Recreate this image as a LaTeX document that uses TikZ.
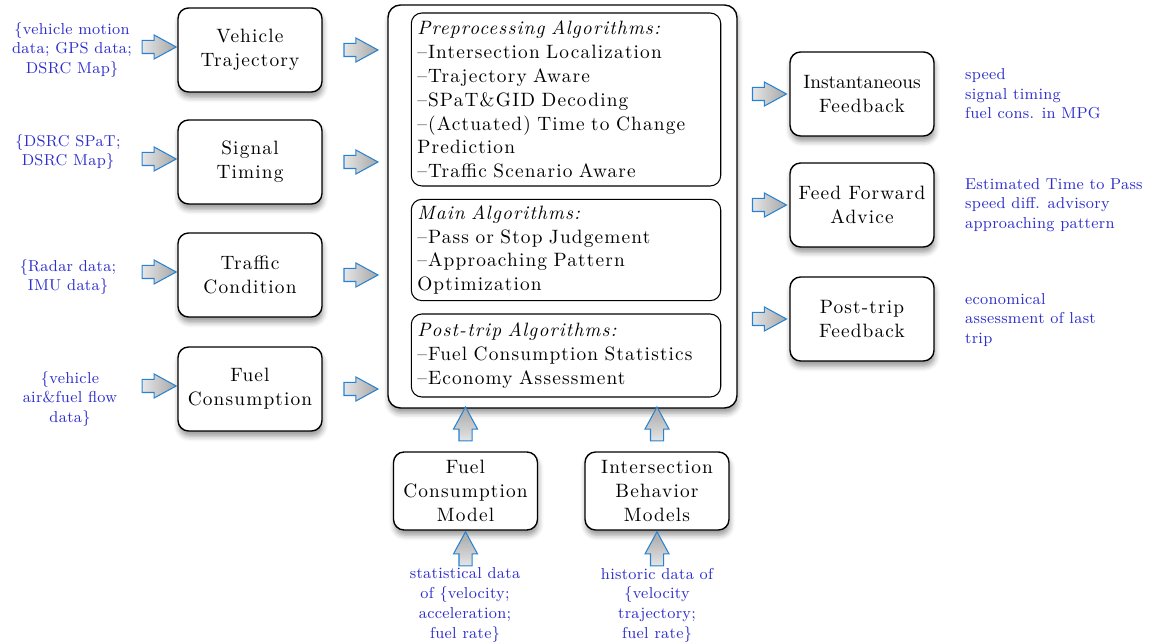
\documentclass[tikz,border=0pt]{standalone}
\usepackage{fontspec}
\setmainfont{Latin Modern Roman}
\newfontfamily\spacedfont{Latin Modern Roman}[LetterSpace=6]
\newfontfamily\datafont{Latin Modern Roman}[LetterSpace=2]
\usetikzlibrary{shapes.arrows,shadows.blur,calc}
\definecolor{datablue}{RGB}{45,45,205}
\definecolor{arrowblue}{RGB}{40,130,210}
\begin{document}
\begin{tikzpicture}[
      x=0.02cm, y=-0.02cm,
      module box/.style ={draw, line width=0.8pt, rounded corners=6pt, fill=white,
        align=center, inner sep=2pt, minimum width=2.88cm, minimum height=#1,
        font=\spacedfont\fontsize{11}{13.6}\selectfont,
        blur shadow={shadow xshift=0.5pt, shadow yshift=-3pt, shadow blur radius=3pt}},
      module box/.default=1.68cm,
      algo box/.style ={draw, line width=0.6pt, rounded corners=6pt, fill=white,
        align=left, text width=5.95cm, minimum height=#1, inner sep=0.12cm,
        font=\spacedfont\fontsize{11}{13.6}\selectfont},
      data text/.style ={text=datablue, align=#1, inner sep=1pt,
        font=\datafont\fontsize{9}{11.2}\selectfont},
      data text/.default=center,
      fat arrow/.style ={single arrow, draw=arrowblue, line width=0.6pt,
        minimum height=0.68cm, text height=0pt, text depth=0pt, inner xsep=0pt,
        inner ysep=0.12cm, single arrow head extend=0.11cm,
        single arrow tip angle=57, left color=gray!20, right color=gray!70},
      up arrow/.style ={fat arrow, shape border rotate=90, inner xsep=0.12cm,
        inner ysep=0pt, bottom color=gray!20, top color=gray!70}]
    \useasboundingbox (0,0) rectangle (1153,644);
    \node[module box] (traj) at (250,50) {Vehicle\\Trajectory};
    \node[module box] (signal) at (250,162) {Signal\\Timing};
    \node[module box] (traffic) at (250,275) {Traffic\\Condition};
    \node[module box] (fuel) at (250,389) {Fuel\\Consumption};
    \node[data text] (trajdata) at (72,50) {\{vehicle motion\\data; GPS data;\\DSRC Map\}};
    \node[data text] (signaldata) at (68,152) {\{DSRC SPaT;\\DSRC Map\}};
    \node[data text] (trafficdata) at (68,277) {\{Radar data;\\IMU data\}};
    \node[data text] (fueldata) at (70,399) {\{vehicle\\air\&fuel flow\\data\}};
    \node[draw, line width=0.8pt, rounded corners=7pt, fill=white, minimum width=6.98cm,
      minimum height=8.06cm,
      blur shadow={shadow xshift=0.5pt, shadow yshift=-3pt, shadow blur radius=3pt}]
      (main) at (562.5,206.5) {};
    \node[algo box=3.46cm] (prep) at (566,99.5) {\textit{Preprocessing Algorithms:}\\
      \textendash Intersection Localization\\\textendash Trajectory Aware\\
      \textendash SPaT\&GID Decoding\\\textendash(Actuated) Time to Change\\
      Prediction\\\textendash Traffic Scenario Aware};
    \node[algo box=2cm] (mainalgo) at (566,250) {\textit{Main Algorithms:}\\
      \textendash Pass or Stop Judgement\\\textendash Approaching Pattern\\Optimization};
    \node[algo box=1.66cm] (post) at (566,355.5) {\textit{Post-trip Algorithms:}\\
      \textendash Fuel Consumption Statistics\\\textendash Economy Assessment};
    \node[module box] (instant) at (862,94) {{\rmfamily Instantaneous}\\Feedback};
    \node[module box] (advice) at (862,205) {Feed Forward\\Advice};
    \node[module box] (posttrip) at (862,319) {Post-trip\\Feedback};
    \node[data text=left, anchor=west] (instantdata) at (963,94) {speed\\signal timing\\fuel cons. in MPG};
    \node[data text=left, anchor=west] (advicedata) at (963,205) {Estimated Time to Pass\\speed diff. advisory\\approaching pattern};
    \node[data text=left, anchor=west] (postdata) at (963,320) {economical\\assessment of last\\trip};
    \node[module box=1.56cm] (fcmodel) at (465.5,491) {Fuel\\Consumption\\Model};
    \node[module box=1.56cm] (ibmodel) at (657,491) {Intersection\\Behavior\\Models};
    \node[data text] (fcdata) at (465,605) {statistical data\\of \{velocity;\\acceleration;\\fuel rate\}};
    \node[data text] (ibdata) at (657,605) {historic data of\\\{velocity\\trajectory;\\fuel rate\}};
    \foreach \mod in {traj,signal,traffic,fuel} {
      \node[fat arrow, anchor=tip] at ([yshift=0.06cm]\mod.west) {};
      \node[fat arrow] at ($(\mod.east)!0.5!(\mod.east -| main.west)$) {};
    }
    \foreach \mod in {instant,advice,posttrip}
      \node[fat arrow] at ($(\mod.west)!0.5!(\mod.west -| main.east)$) {};
    \foreach \mod in {fcmodel,ibmodel} {
      \node[up arrow] at ($(\mod.north)!0.5!(\mod.north |- main.south)$) {};
      \node[up arrow, anchor=tip] at (\mod.south) {};
    }
    \end{tikzpicture}
\end{document}
